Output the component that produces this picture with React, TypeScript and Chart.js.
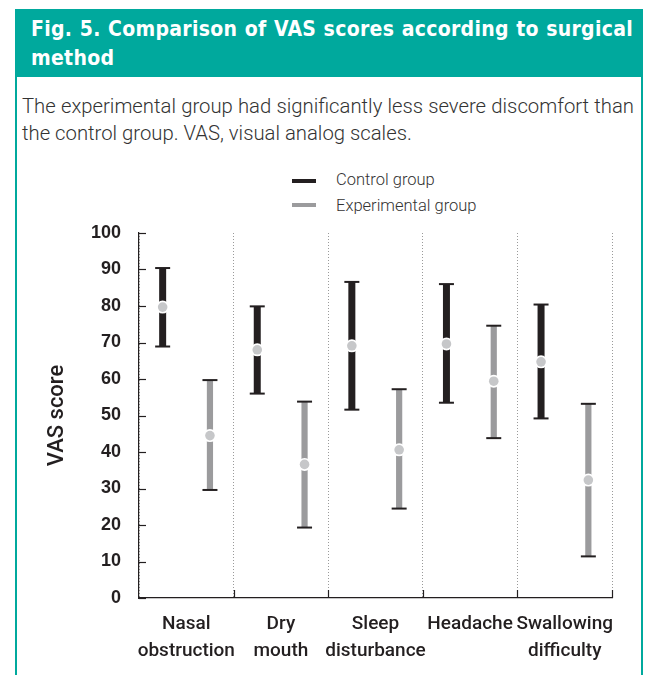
import React, { useEffect, useRef } from 'react';
import { Chart, registerables } from 'chart.js';
Chart.register(...registerables);

const categories: string[][] = [
  ['Nasal', 'obstruction'],
  ['Dry', 'mouth'],
  ['Sleep', 'disturbance'],
  ['Headache'],
  ['Swallowing', 'difficulty'],
];
const controlMean = [79.7, 68.0, 69.1, 69.6, 64.7];
const controlLow = [68.9, 56.0, 51.6, 53.5, 49.2];
const controlHigh = [90.4, 79.9, 86.6, 86.0, 80.4];
const expMean = [44.5, 36.6, 40.6, 59.4, 32.3];
const expLow = [29.6, 19.3, 24.5, 43.8, 11.4];
const expHigh = [59.7, 53.8, 57.2, 74.6, 53.2];
const seriesNames = ['Control group', 'Experimental group'];

const COND = "'DejaVu Sans Condensed', 'DejaVu Sans', sans-serif";
const HUM = "Roboto, 'Noto Sans', sans-serif";
const SANS = "'Liberation Sans', Arial, sans-serif";
const TEAL = '#00a99d';
const INK = '#231f20';
const CTRL = '#231f20';
const EXP = '#9b9b9d';

const lows = [controlLow, expLow];
const highs = [controlHigh, expHigh];
const means = [controlMean, expMean];

const errorPlugin = {
  id: 'errorBars',
  afterDatasetsDraw(chart: any) {
    const ctx = chart.ctx;
    const ys = chart.scales.y;
    const xs = chart.scales.x;
    const area = chart.chartArea;
    ctx.save();
    chart.data.datasets.forEach((_ds: any, di: number) => {
      const meta = chart.getDatasetMeta(di);
      meta.data.forEach((bar: any, i: number) => {
        const cx = bar.x;
        ctx.strokeStyle = INK;
        ctx.lineWidth = 2;
        [lows[di][i], highs[di][i]].forEach((v) => {
          const py = ys.getPixelForValue(v);
          ctx.beginPath();
          ctx.moveTo(cx - 7.5, py);
          ctx.lineTo(cx + 7.5, py);
          ctx.stroke();
        });
        const my = ys.getPixelForValue(means[di][i]);
        ctx.fillStyle = '#ffffff';
        ctx.beginPath();
        ctx.arc(cx, my, 6.5, 0, Math.PI * 2);
        ctx.fill();
        ctx.fillStyle = '#c6c7c9';
        ctx.beginPath();
        ctx.arc(cx, my, 4.8, 0, Math.PI * 2);
        ctx.fill();
      });
    });
    ctx.strokeStyle = INK;
    ctx.lineWidth = 1.2;
    for (let v = 0; v <= 100; v += 10) {
      const py = Math.round(ys.getPixelForValue(v)) + 0.5;
      ctx.beginPath();
      ctx.moveTo(area.left, py);
      ctx.lineTo(area.left + 7, py);
      ctx.stroke();
    }
    const half = (xs.getPixelForValue(1) - xs.getPixelForValue(0)) / 2;
    for (let i = 0; i < categories.length; i++) {
      const px = Math.round(xs.getPixelForValue(i) + half) + 0.5;
      ctx.beginPath();
      ctx.moveTo(px, area.bottom);
      ctx.lineTo(px, area.bottom - 8);
      ctx.stroke();
    }
    ctx.restore();
  },
};

function ChartBox() {
  const ref = useRef<HTMLCanvasElement | null>(null);
  useEffect(() => {
    if (!ref.current) return;
    const chart = new Chart(ref.current, {
      type: 'bar',
      data: {
        labels: categories,
        datasets: [
          {
            label: seriesNames[0],
            data: controlLow.map((l, i) => [l, controlHigh[i]]),
            backgroundColor: CTRL,
            categoryPercentage: 1,
            barPercentage: 7 / 47.3,
            borderSkipped: false,
            borderWidth: 0,
          },
          {
            label: seriesNames[1],
            data: expLow.map((l, i) => [l, expHigh[i]]),
            backgroundColor: EXP,
            categoryPercentage: 1,
            barPercentage: 6.2 / 47.3,
            borderSkipped: false,
            borderWidth: 0,
          },
        ],
      } as any,
      options: {
        animation: false,
        responsive: false,
        maintainAspectRatio: false,
        events: [],
        layout: { padding: { top: 11, right: 31, left: 0, bottom: 0 } },
        plugins: { legend: { display: false }, tooltip: { enabled: false } },
        scales: {
          x: {
            offset: true,
            grid: {
              display: true,
              offset: true,
              drawTicks: false,
              color: '#9a9a9a',
              lineWidth: 1,
            } as any,
            border: { display: true, color: INK, width: 1.2, dash: [1, 2] } as any,
            ticks: {
              padding: 13,
              color: INK,
              font: { family: HUM, size: 19, weight: '500', lineHeight: 26.7 / 19 },
              maxRotation: 0,
              autoSkip: false,
            },
            afterFit: (s: any) => {
              s.height = 77;
              s.paddingLeft = 0;
              s.paddingRight = 0;
            },
          },
          y: {
            min: 0,
            max: 100,
            grid: { display: false, drawTicks: false },
            border: { display: true, color: INK, width: 1.2 },
            ticks: {
              stepSize: 10,
              padding: 18,
              color: INK,
              font: { family: SANS, size: 18, weight: 'bold' },
            },
            title: {
              display: true,
              text: 'VAS score',
              color: INK,
              font: { family: HUM, size: 22, weight: '500' },
              padding: { top: 29, bottom: 0 },
            },
            afterFit: (s: any) => {
              s.width = 124;
              s.paddingTop = 0;
              s.paddingBottom = 0;
            },
          },
        },
      } as any,
      plugins: [errorPlugin],
    });
    return () => chart.destroy();
  }, []);
  return (
    <canvas
      ref={ref}
      width={628}
      height={453}
      style={{ position: 'absolute', left: 15, top: 222, width: 628, height: 453 }}
    />
  );
}

export default function App() {
  return (
    <div
      style={{
        position: 'fixed',
        left: 0,
        top: 0,
        width: 649,
        height: 675,
        background: '#fff',
        overflow: 'hidden',
      }}
    >
      <div
        style={{
          position: 'absolute',
          left: 15,
          top: 9,
          width: 624,
          height: 700,
          borderLeft: `2px solid ${TEAL}`,
          borderRight: `2px solid ${TEAL}`,
        }}
      />
      <div
        style={{
          position: 'absolute',
          left: 15,
          top: 9,
          width: 628,
          height: 68,
          background: TEAL,
        }}
      >
        <div
          style={{
            position: 'absolute',
            left: 16,
            top: 6,
            width: 602,
            color: '#fff',
            fontFamily: COND,
            fontWeight: 'bold',
            fontSize: 21,
            lineHeight: '29px',
            letterSpacing: 0.3,
          }}
        >
          <div style={{ textAlign: 'justify', textAlignLast: 'justify' as any, whiteSpace: 'nowrap' }}>
            Fig. 5. Comparison of VAS scores according to surgical
          </div>
          <div>method</div>
        </div>
      </div>
      <div
        style={{
          position: 'absolute',
          left: 22,
          top: 93,
          width: 612,
          color: '#333',
          fontFamily: HUM,
          fontWeight: 300,
          fontSize: 20.3,
          lineHeight: '27px',
        }}
      >
        <div style={{ textAlign: 'justify', textAlignLast: 'justify' as any, whiteSpace: 'nowrap' }}>
          The experimental group had significantly less severe discomfort than
        </div>
        <div style={{ whiteSpace: 'nowrap' }}>the control group. VAS, visual analog scales.</div>
      </div>
      <div style={{ position: 'absolute', left: 292, top: 179, width: 24, height: 4, background: CTRL }} />
      <div style={{ position: 'absolute', left: 292, top: 203, width: 24, height: 4, background: EXP }} />
      <div
        style={{
          position: 'absolute',
          left: 336,
          top: 169,
          fontFamily: HUM,
          fontWeight: 300,
          fontSize: 16.5,
          lineHeight: '22px',
          color: '#333',
          whiteSpace: 'nowrap',
        }}
      >
        {seriesNames[0]}
      </div>
      <div
        style={{
          position: 'absolute',
          left: 336,
          top: 195,
          fontFamily: HUM,
          fontWeight: 300,
          fontSize: 16.5,
          lineHeight: '22px',
          color: '#333',
          whiteSpace: 'nowrap',
        }}
      >
        {seriesNames[1]}
      </div>
      <ChartBox />
    </div>
  );
}
